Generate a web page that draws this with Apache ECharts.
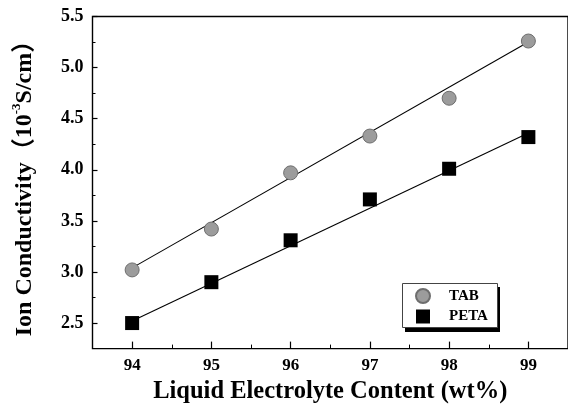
<!DOCTYPE html>
<html>
<head>
<meta charset="utf-8">
<script src="https://cdn.jsdelivr.net/npm/echarts@6/dist/echarts.min.js"></script>
<style>html,body{margin:0;padding:0;background:#fff}#c{width:568px;height:409px}</style>
</head>
<body>
<div id="c"></div>
<script>
// ---- data ----
var contentX = [94, 95, 96, 97, 98, 99];
var tabValues = [3.02, 3.42, 3.97, 4.33, 4.70, 5.26];
var petaValues = [2.50, 2.90, 3.31, 3.71, 4.01, 4.32];
var fitX = [94, 99];
var tabFit = [3.04, 5.25];
var petaFit = [2.52, 4.36];
var xTickLabels = [94, 95, 96, 97, 98, 99];
var xMinorTicks = [94.5, 95.5, 96.5, 97.5, 98.5];
var yTickLabels = [2.5, 3.0, 3.5, 4.0, 4.5, 5.0, 5.5];
var yMinorTicks = [2.75, 3.25, 3.75, 4.25, 4.75, 5.25];
var seriesNames = ['TAB', 'PETA'];

function pairs(xs, ys) { return xs.map(function (x, i) { return [x, ys[i]]; }); }

var font = '"Liberation Serif", "Times New Roman", "Noto Sans CJK SC", serif';
var chart = echarts.init(document.getElementById('c'), null, { renderer: 'canvas' });

chart.setOption({
  backgroundColor: '#fff',
  animation: false,
  grid: { left: 92.5, right: -10, top: 16.5, bottom: 57, show: true, borderColor: '#000', borderWidth: 1.4, backgroundColor: 'transparent' },
  xAxis: [{
    type: 'value', min: 93.5, max: 99.5, interval: 0.5, position: 'bottom',
    name: 'Liquid Electrolyte Content (wt%)', nameLocation: 'middle', nameGap: 19,
    nameTextStyle: { fontFamily: font, fontWeight: 'bold', fontSize: 24.5, color: '#000', verticalAlign: 'top' },
    axisLine: { show: false },
    axisTick: { show: true, inside: true, length: 7, customValues: xTickLabels, lineStyle: { color: '#000', width: 1.2 } },
    axisLabel: { customValues: xTickLabels, margin: 9, fontFamily: font, fontWeight: 'bold', fontSize: 17, color: '#000' },
    splitLine: { show: false }
  }, {
    type: 'value', min: 93.5, max: 99.5, interval: 0.5, position: 'bottom',
    axisLine: { show: false },
    axisTick: { show: true, inside: true, length: 4, customValues: xMinorTicks, lineStyle: { color: '#000', width: 1 } },
    axisLabel: { show: false },
    splitLine: { show: false }
  }],
  yAxis: [{
    type: 'value', min: 2.25, max: 5.5, interval: 0.25, position: 'left',
    name: '{a|Ion Conductivity（10}{s|-3}{a|S/cm）}', nameLocation: 'middle', nameGap: 54,
    nameTextStyle: {
      color: '#000',
      rich: {
        a: { fontFamily: font, fontWeight: 'bold', fontSize: 24, color: '#000', lineHeight: 28 },
        s: { fontFamily: font, fontWeight: 'bold', fontSize: 13, color: '#000', verticalAlign: 'top', lineHeight: 28, padding: [0, 0, 11, 0] }
      }
    },
    axisLine: { show: false },
    axisTick: { show: true, inside: true, length: 5, customValues: yTickLabels, lineStyle: { color: '#000', width: 1.2 } },
    axisLabel: { customValues: yTickLabels, margin: 9, fontFamily: font, fontWeight: 'bold', fontSize: 18, color: '#000',
      formatter: function (v) { return v.toFixed(1); } },
    splitLine: { show: false }
  }, {
    type: 'value', min: 2.25, max: 5.5, interval: 0.25, position: 'left',
    axisLine: { show: false },
    axisTick: { show: true, inside: true, length: 3, customValues: yMinorTicks, lineStyle: { color: '#000', width: 1 } },
    axisLabel: { show: false },
    splitLine: { show: false }
  }],
  legend: {
    orient: 'vertical', left: 415, top: 288, padding: 0,
    itemWidth: 14, itemHeight: 14, itemGap: 5,
    data: seriesNames,
    textStyle: { fontFamily: font, fontWeight: 'bold', fontSize: 15, color: '#000', padding: [0, 0, 0, 14] }
  },
  graphic: [
    { type: 'rect', z: 0, left: 405, top: 287, shape: { width: 95, height: 45 }, style: { fill: '#000' } },
    { type: 'rect', z: 1, left: 402, top: 283, shape: { width: 95, height: 44 }, style: { fill: '#fff', stroke: '#444', lineWidth: 1 } }
  ],
  series: [
    { name: 'TAB fit', type: 'line', data: pairs(fitX, tabFit), showSymbol: false, symbol: 'none',
      lineStyle: { color: '#000', width: 1.1 }, z: 2, silent: true },
    { name: 'PETA fit', type: 'line', data: pairs(fitX, petaFit), showSymbol: false, symbol: 'none',
      lineStyle: { color: '#000', width: 1.1 }, z: 2, silent: true },
    { name: 'TAB', type: 'scatter', data: pairs(contentX, tabValues), symbol: 'circle', symbolSize: 14,
      itemStyle: { color: '#9c9c9c', borderColor: '#6e6e6e', borderWidth: 1, opacity: 1 }, z: 3 },
    { name: 'PETA', type: 'scatter', data: pairs(contentX, petaValues), symbol: 'rect', symbolSize: 14,
      itemStyle: { color: '#000', opacity: 1 }, z: 3 }
  ]
});
</script>
</body>
</html>
